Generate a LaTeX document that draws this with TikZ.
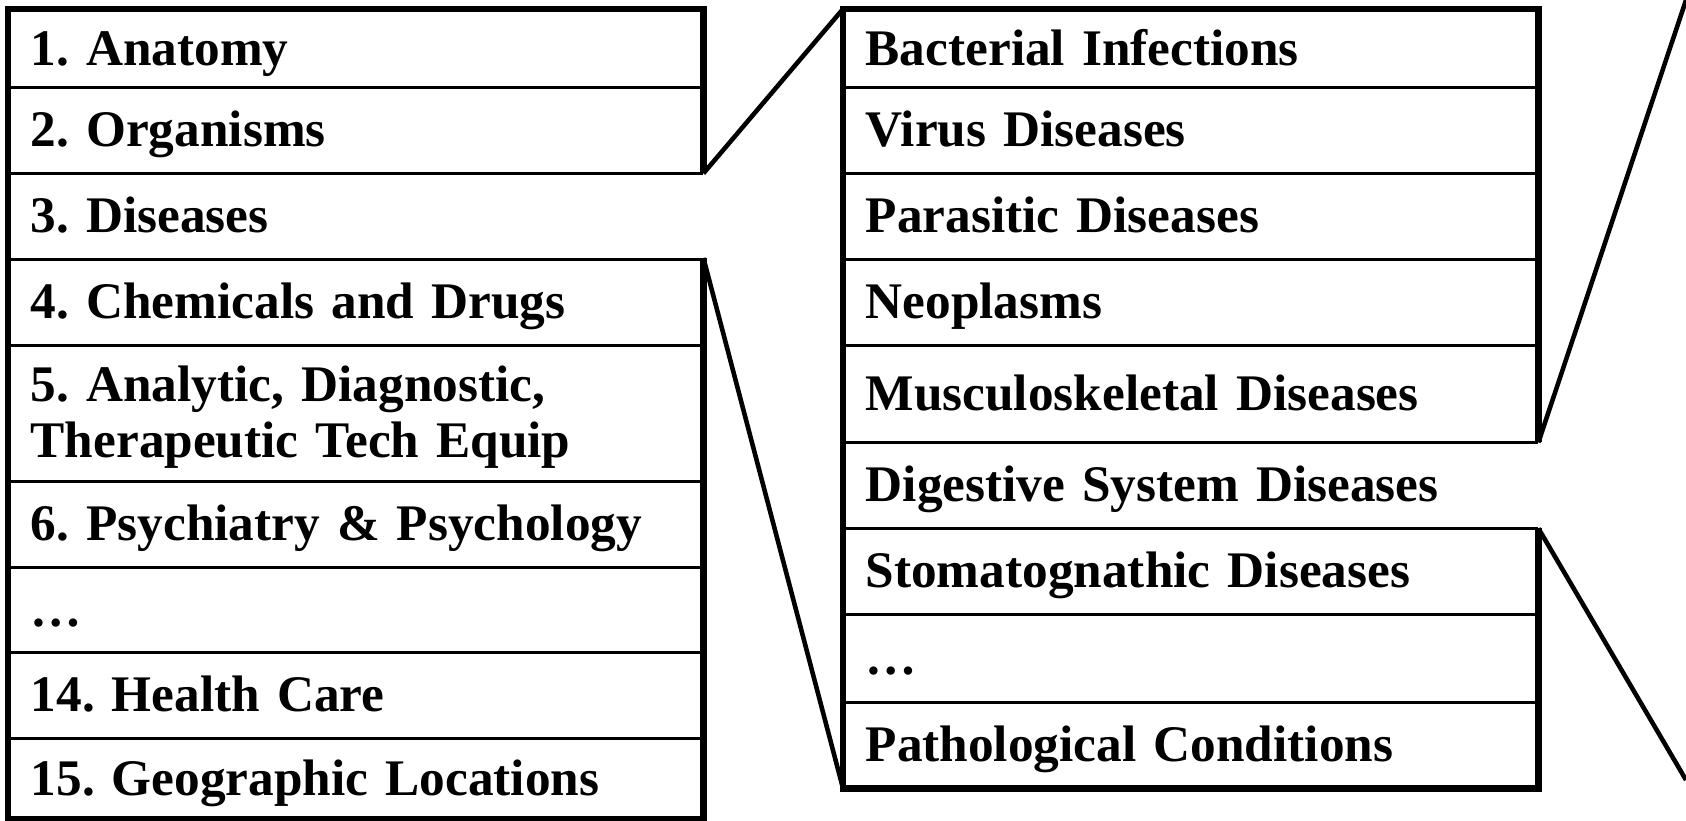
\documentclass[tikz,border=0pt]{standalone}
\usepackage{fontspec}
\setmainfont{Liberation Serif}
\usetikzlibrary{matrix}

\begin{document}
\begin{tikzpicture}[
  cell/.style={inner xsep=0.22cm,inner ysep=0pt,text width=6.5cm,align=left,
    minimum height=0.86cm,text height=0.34cm,text depth=0pt,
    font=\fontsize{14.6}{16}\selectfont\bfseries\frenchspacing},
  rule/.style={line width=0.9pt},
  frame/.style={line width=1.8pt},
  zoomline/.style={line width=1.3pt}]
\useasboundingbox (0,0) rectangle (16.86,-8.21);
\matrix[matrix of nodes,nodes={cell},anchor=north west,inner sep=0pt] (cat) at (0.08,-0.09)
{
  |[minimum height=0.77cm]| 1. Anatomy\\
  2. Organisms\\
  3. Diseases\\
  4. Chemicals and Drugs\\
  |[minimum height=1.36cm,text depth=0.56cm]| 5. Analytic, Diagnostic,\newline Therapeutic Tech Equip\\
  6. Psychiatry \& Psychology\\
  |[minimum height=0.85cm]| …\\
  14. Health Care\\
  |[minimum height=0.81cm]| 15. Geographic Locations\\
};
\matrix[matrix of nodes,nodes={cell},anchor=north west,inner sep=0pt] (dis) at (8.43,-0.09)
{
  |[minimum height=0.77cm]| Bacterial Infections\\
  Virus Diseases\\
  Parasitic Diseases\\
  Neoplasms\\
  |[minimum height=0.97cm]| Musculoskeletal Diseases\\
  Digestive System Diseases\\
  Stomatognathic Diseases\\
  |[minimum height=0.88cm]| …\\
  Pathological Conditions\\
};
\coordinate (ztop) at (16.86,0);
\coordinate (zbot) at (16.86,-7.80);
% row separators
\foreach \i in {1,...,8}{
  \draw[rule] (cat-\i-1.south west) -- (cat-\i-1.south east);
  \draw[rule] (dis-\i-1.south west) -- (dis-\i-1.south east);
}
% open frames
\draw[frame] (cat-2-1.south east) -- (cat-1-1.north east) -- (cat-1-1.north west)
  -- (cat-9-1.south west) -- (cat-9-1.south east) -- (cat-4-1.north east);
\draw[frame] (dis-5-1.south east) -- (dis-1-1.north east) -- (dis-1-1.north west)
  -- (dis-9-1.south west) -- (dis-9-1.south east) -- (dis-6-1.south east);
% zoom lines
\draw[zoomline] (cat-2-1.south east) -- (dis-1-1.north west)
  (cat-4-1.north east) -- (dis-9-1.south west);
\draw[zoomline] (dis-5-1.south east) -- (ztop)
  (dis-6-1.south east) -- (zbot);
\end{tikzpicture}
\end{document}
